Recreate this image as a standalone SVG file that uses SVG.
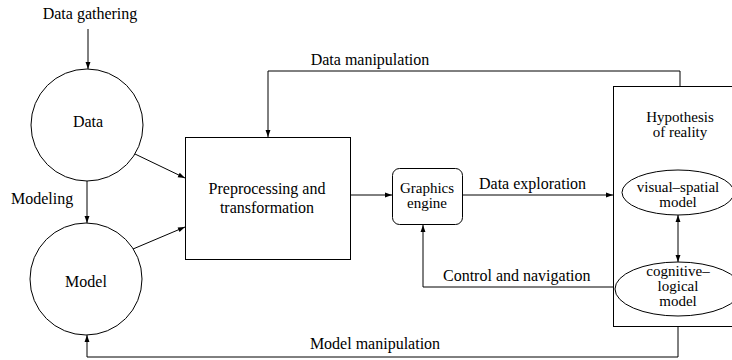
<svg xmlns="http://www.w3.org/2000/svg" width="732" height="360" viewBox="0 0 732 360">
<style>
text{font-family:"Liberation Serif","Times New Roman","DejaVu Serif",serif;font-size:16px;fill:#000}
.c{text-anchor:middle}
.m{font-size:15px}
.s{fill:#fff;stroke:#000;stroke-width:1}
.l{fill:none;stroke:#000;stroke-width:1}
</style>
<defs>
<marker id="a" viewBox="0 0 10 10" refX="10" refY="5" markerWidth="9" markerHeight="7" markerUnits="userSpaceOnUse" orient="auto-start-reverse">
<path d="M0,1.5 L10,5 L0,8.5 z" fill="#000"/>
</marker>
</defs>
<rect width="732" height="360" fill="#fff"/>
<g id="connectors">
<path class="l" d="M88,29 V69" marker-end="url(#a)"/>
<path class="l" d="M87,181 V223" marker-end="url(#a)"/>
<path class="l" d="M135,154 L185,178" marker-end="url(#a)"/>
<path class="l" d="M133,249 L185,227" marker-end="url(#a)"/>
<path class="l" d="M680,86 V71 H268 V137" marker-end="url(#a)"/>
<path class="l" d="M351,195 H392" marker-end="url(#a)"/>
<path class="l" d="M463,195 H613" marker-end="url(#a)"/>
<path class="l" d="M613,287 H423 V225" marker-end="url(#a)"/>
<path class="l" d="M678,327 V357 H87 V335" marker-end="url(#a)"/>
<text x="90" y="19" class="c">Data gathering</text>
<text x="11" y="204">Modeling</text>
<text x="370" y="65" class="c">Data manipulation</text>
<text x="479" y="189">Data exploration</text>
<text x="443" y="281">Control and navigation</text>
<text x="375" y="349" class="c">Model manipulation</text>
</g>
<g id="data">
<circle class="s" cx="87" cy="125" r="56"/>
<text x="88" y="127" class="c">Data</text>
</g>
<g id="model">
<circle class="s" cx="86" cy="279" r="56"/>
<text x="86" y="287" class="c">Model</text>
</g>
<g id="preprocessing">
<rect class="s" x="185.5" y="137.5" width="165" height="122"/>
<text x="267" y="194" class="c">Preprocessing and</text>
<text x="267" y="213" class="c">transformation</text>
</g>
<g id="graphics">
<rect class="s" x="392.5" y="168.5" width="70" height="56" rx="7"/>
<text x="427" y="193" class="c m">Graphics</text>
<text x="427" y="208" class="c m">engine</text>
</g>
<g id="hypothesis">
<rect class="s" x="613.5" y="86.5" width="140" height="240"/>
<text x="680" y="122" class="c m">Hypothesis</text>
<text x="680" y="137" class="c m">of reality</text>
</g>
<g id="visual">
<ellipse class="s" cx="678" cy="192.5" rx="56" ry="22.5"/>
<text x="678" y="192" class="c m">visual–spatial</text>
<text x="678" y="207" class="c m">model</text>
</g>
<g id="cognitive">
<ellipse class="s" cx="678" cy="289" rx="63" ry="27"/>
<text x="678" y="276" class="c m">cognitive–</text>
<text x="678" y="291" class="c m">logical</text>
<text x="678" y="306" class="c m">model</text>
</g>
<path class="l" d="M678,215 V262" marker-start="url(#a)" marker-end="url(#a)"/>
</svg>
